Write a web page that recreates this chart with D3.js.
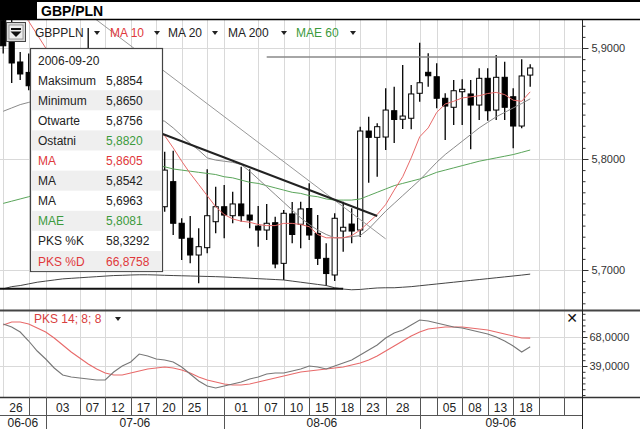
<!DOCTYPE html>
<html><head><meta charset="utf-8">
<script src="https://cdn.jsdelivr.net/npm/d3@7/dist/d3.min.js"></script>
<style>
html,body{margin:0;padding:0;background:#fff;}
svg{display:block;font-family:"Liberation Sans",Arial,sans-serif;}
</style></head><body>
<svg id="chart" width="640" height="429"></svg>
<script>
// ---------------- DATA ----------------
const dates = ["2006-06-26","2006-06-27","2006-06-28","2006-06-29","2006-06-30",
"2006-07-03","2006-07-04","2006-07-05","2006-07-06","2006-07-07",
"2006-07-10","2006-07-11","2006-07-12","2006-07-13","2006-07-14",
"2006-07-17","2006-07-18","2006-07-19","2006-07-20","2006-07-21",
"2006-07-24","2006-07-25","2006-07-26","2006-07-27","2006-07-28",
"2006-07-31","2006-08-01","2006-08-02","2006-08-03","2006-08-04",
"2006-08-07","2006-08-08","2006-08-09","2006-08-10","2006-08-11",
"2006-08-14","2006-08-15","2006-08-16","2006-08-17","2006-08-18",
"2006-08-21","2006-08-22","2006-08-23","2006-08-24","2006-08-25",
"2006-08-28","2006-08-29","2006-08-30","2006-08-31","2006-09-01",
"2006-09-04","2006-09-05","2006-09-06","2006-09-07","2006-09-08",
"2006-09-11","2006-09-12","2006-09-13","2006-09-14","2006-09-15",
"2006-09-18","2006-09-19","2006-09-20"];

const open = [5.9250,5.9117,5.8874,5.8780,5.8660,5.8820,5.8700,5.8890,5.8740,5.8600,
5.8780,5.8920,5.8660,5.8500,5.8400,5.8520,5.8280,5.8350,5.8020,5.7570,
5.7796,5.7421,5.7286,5.7135,5.7201,5.7435,5.7570,5.7489,5.7595,5.7495,
5.7396,5.7360,5.7426,5.7060,5.7505,5.7412,5.7554,5.7330,5.7105,5.6955,
5.7351,5.7414,5.7360,5.8252,5.8195,5.8198,5.8435,5.8358,5.8367,5.8592,
5.8781,5.8741,5.8547,5.8466,5.8606,5.8586,5.8486,5.8727,5.8441,5.8736,
5.8561,5.8297,5.8756];
const high = [5.9350,5.9300,5.8964,5.8950,5.8890,5.8930,5.8980,5.8960,5.8800,5.8840,
5.9180,5.8960,5.8720,5.8620,5.8580,5.8560,5.8420,5.8400,5.8150,5.8066,
5.8075,5.7466,5.7486,5.7376,5.7907,5.7750,5.7766,5.7705,5.7931,5.7907,
5.7577,5.7595,5.7480,5.7540,5.7613,5.7615,5.7781,5.7495,5.7240,5.7511,
5.7615,5.7556,5.8291,5.8381,5.8322,5.8637,5.8651,5.8847,5.8667,5.9048,
5.8952,5.8862,5.8592,5.8712,5.8718,5.8712,5.8817,5.8817,5.8937,5.8877,
5.8637,5.8898,5.8854];
const low = [5.8950,5.8685,5.8712,5.8620,5.8580,5.8640,5.8660,5.8680,5.8520,5.8550,
5.8700,5.8610,5.8450,5.8320,5.8340,5.8220,5.8120,5.7950,5.7600,5.7525,
5.7315,5.7090,5.7060,5.6880,5.7150,5.7330,5.7286,5.7421,5.7435,5.7376,
5.7210,5.7270,5.7015,5.6910,5.7240,5.7196,5.7270,5.7045,5.6856,5.6901,
5.7165,5.7240,5.7297,5.7786,5.7841,5.8081,5.8144,5.8270,5.8268,5.8516,
5.8651,5.8457,5.8171,5.8306,5.8306,5.8087,5.8351,5.8345,5.8351,5.8351,
5.8096,5.8277,5.8650];
const close = [5.9020,5.8865,5.8766,5.8660,5.8820,5.8700,5.8890,5.8740,5.8600,5.8780,
5.8920,5.8660,5.8500,5.8400,5.8520,5.8280,5.8350,5.8020,5.7680,5.7900,
5.7421,5.7286,5.7135,5.7210,5.7489,5.7570,5.7495,5.7595,5.7489,5.7450,
5.7360,5.7421,5.7054,5.7511,5.7320,5.7550,5.7315,5.7105,5.6968,5.7466,
5.7385,5.7351,5.8252,5.8195,5.8291,5.8441,5.8356,5.8387,5.8586,5.8687,
5.8750,5.8547,5.8477,5.8615,5.8628,5.8486,5.8727,5.8435,5.8736,5.8466,
5.8297,5.8748,5.8820];

const ma10 = [5.950,5.945,5.935,5.924,5.912,5.900,5.890,5.880,5.872,5.865,
5.858,5.852,5.848,5.845,5.842,5.838,5.834,5.830,5.825,5.821,
5.810,5.798,5.787,5.777,5.767,5.757,5.750,5.746,5.744,5.743,
5.741,5.740,5.740,5.742,5.742,5.741,5.739,5.732,5.729,5.729,
5.729,5.731,5.736,5.743,5.750,5.759,5.772,5.784,5.801,5.820,
5.828,5.842,5.8495,5.852,5.855,5.856,5.857,5.859,5.860,5.858,
5.853,5.852,5.8605];
const ma20 = [5.843,5.846,5.849,5.851,5.853,5.854,5.855,5.856,5.857,5.857,
5.856,5.855,5.853,5.851,5.848,5.845,5.842,5.839,5.836,5.834,
5.828,5.821,5.814,5.808,5.801,5.799,5.798,5.797,5.795,5.789,
5.782,5.775,5.768,5.761,5.754,5.747,5.741,5.736,5.732,5.729,
5.729,5.730,5.731,5.737,5.745,5.753,5.760,5.767,5.774,5.781,
5.789,5.797,5.804,5.810,5.816,5.822,5.828,5.833,5.838,5.842,
5.846,5.850,5.8542];
const ma200 = [5.683,5.685,5.686,5.6875,5.689,5.690,5.691,5.692,5.6925,5.693,
5.6935,5.694,5.6945,5.695,5.6952,5.6955,5.6957,5.6957,5.6955,5.6952,
5.695,5.6948,5.6946,5.6944,5.6942,5.694,5.6937,5.6933,5.693,5.6926,
5.6922,5.6918,5.6914,5.691,5.690,5.689,5.688,5.687,5.686,5.684,
5.6828,5.6822,5.6825,5.6832,5.6838,5.684,5.684,5.6845,5.685,5.6858,
5.6866,5.6874,5.6882,5.689,5.6898,5.6906,5.6914,5.6922,5.693,5.6938,
5.6946,5.6954,5.6963];
const mae60 = [5.760,5.762,5.764,5.766,5.769,5.772,5.775,5.778,5.781,5.783,
5.786,5.788,5.790,5.791,5.792,5.793,5.794,5.794,5.794,5.793,
5.791,5.790,5.789,5.788,5.787,5.786,5.784,5.783,5.781,5.779,
5.778,5.776,5.774,5.772,5.770,5.769,5.767,5.766,5.764,5.763,
5.763,5.763,5.764,5.767,5.770,5.773,5.776,5.778,5.780,5.782,
5.785,5.788,5.790,5.792,5.794,5.796,5.798,5.7995,5.801,5.8025,
5.804,5.806,5.8081];

const pksK = [81,78,73,64,54,46,37,30,28,27,26,25,25,33,39,43,51,49,46,45,
43,38,31,24,19,17,19,21,23,26,28,31,32,32,34,36,39,38,36,39,
42,45,50,55,60,67,72,75,80,85,84,82,80,78,77,75,73,71,68,64,
59,53,58.3292];
const pksD = [80,83,83,81,77,73,67,60,53,47,41,36,32,30,30,32,34,36,37,38,
37,35,32,28,25,23,21,20,20,21,23,25,27,29,31,33,34,35,36,37,
38,40,42,45,49,54,59,64,69,73,76,77,78,78,78,77,76,75,73,71,
69,67,66.8758];

// trend lines drawn by the user: [candle index, price]
const trendThick = [[15,5.8336],[44,5.7486]];
const trendLong = [[10,5.931],[45,5.728]];
const resistance = [[31,5.892],[68,5.892]];
const support = [[-0.4,5.683],[40,5.683]];

const priceTicks = [5.7,5.8,5.9];
const pksTicks = [39,68];
const dayTicks = [
 {date:"2006-06-26",label:"26"},{date:"2006-06-29",label:""},{date:"2006-07-03",label:"03"},
 {date:"2006-07-07",label:"07"},{date:"2006-07-12",label:"12"},{date:"2006-07-17",label:"17"},
 {date:"2006-07-20",label:"20"},{date:"2006-07-25",label:"25"},{date:"2006-07-28",label:""},
 {date:"2006-08-01",label:"01"},{date:"2006-08-07",label:"07"},{date:"2006-08-10",label:"10"},
 {date:"2006-08-15",label:"15"},{date:"2006-08-18",label:"18"},{date:"2006-08-23",label:"23"},
 {date:"2006-08-28",label:"28"},{date:"2006-09-01",label:""},{date:"2006-09-05",label:"05"},
 {date:"2006-09-08",label:"08"},{date:"2006-09-13",label:"13"},{date:"2006-09-18",label:"18"},
 {date:"2006-09-21",label:""},{date:"2006-09-26",label:""}];
const monthTicks = [{date:"2006-06-26",label:"06-06"},{date:"2006-07-03",label:"07-06"},
 {date:"2006-08-01",label:"08-06"},{date:"2006-09-01",label:"09-06"}];

const title = "GBP/PLN";
const legendItems = [{t:"GBPPLN",c:"#222"},{t:"MA 10",c:"#e0383b"},{t:"MA 20",c:"#222"},{t:"MA 200",c:"#222"},{t:"MAE 60",c:"#3c9a3c"}];
const infoLabels = ["Maksimum","Minimum","Otwarte","Ostatni","MA","MA","MA","MAE","PKS %K","PKS %D"];
const pksTitle = "PKS 14; 8; 8";

// ---------------- DRAW ----------------
const svg = d3.select("#chart");
const AX = 582, MT = 20, MB = 310, LT = 311, LB = 397;
const x = d3.scaleLinear().domain([0,68]).range([3.2,581.2]);
const y = d3.scaleLinear().domain([5.7,5.9]).range([270,48]);
const yk = d3.scaleLinear().domain([39,68]).range([366,337]);
const comma = v => d3.format(".4f")(v).replace(".", ",");
const last = dates.length-1;
const RED="#e0383b", GREEN="#3c9a3c";

function bizIndex(ds){
  const t0=new Date(dates[0]+"T00:00:00Z"), t=new Date(ds+"T00:00:00Z");
  let n=0;
  for(let c=new Date(t0); c<t; c.setUTCDate(c.getUTCDate()+1)){const w=c.getUTCDay(); if(w!==0&&w!==6) n++;}
  return n;
}
const px = v => Math.round(v)+0.5;

const defs = svg.append("defs");
defs.append("clipPath").attr("id","cm").append("rect").attr("x",0).attr("y",MT).attr("width",AX).attr("height",MB-MT);
defs.append("clipPath").attr("id","cl").append("rect").attr("x",0).attr("y",LT).attr("width",AX).attr("height",LB-LT);

svg.append("rect").attr("width",640).attr("height",429).attr("fill","#fff");

// grid
const grid = svg.append("g").attr("stroke","#d9d9d9").attr("stroke-width",1);
dayTicks.forEach(t=>{
  const xx = px(x(bizIndex(t.date)));
  grid.append("line").attr("x1",xx).attr("x2",xx).attr("y1",MT).attr("y2",LB);
});
priceTicks.forEach(v=>grid.append("line").attr("x1",0).attr("x2",AX).attr("y1",px(y(v))).attr("y2",px(y(v))));
pksTicks.forEach(v=>grid.append("line").attr("x1",0).attr("x2",AX).attr("y1",px(yk(v))).attr("y2",px(yk(v))));

// main panel
const main = svg.append("g").attr("clip-path","url(#cm)");
const idxLine = d3.line().x((d,i)=>x(i)).y(d=>y(d));
const ptLine = d3.line().x(d=>x(d[0])).y(d=>y(d[1]));

// candles
const cg = main.append("g");
dates.forEach((d,i)=>{
  const o=open[i], c=close[i], xx=x(i);
  cg.append("line").attr("x1",xx).attr("x2",xx).attr("y1",y(high[i])).attr("y2",y(low[i]))
    .attr("stroke","#000").attr("stroke-width",1.3);
  const top=y(Math.max(o,c)), h=Math.max(1,Math.abs(y(o)-y(c)));
  cg.append("rect").attr("x",xx-2.6).attr("y",top).attr("width",5.2).attr("height",h)
    .attr("fill", c>=o ? "#fff":"#000").attr("stroke","#000").attr("stroke-width",1);
});

// indicators
main.append("path").attr("d",idxLine(ma200)).attr("fill","none").attr("stroke","#444").attr("stroke-width",1);
main.append("path").attr("d",idxLine(mae60)).attr("fill","none").attr("stroke","#5aa55a").attr("stroke-width",1);
main.append("path").attr("d",idxLine(ma20)).attr("fill","none").attr("stroke","#8a8a8a").attr("stroke-width",1);
main.append("path").attr("d",idxLine(ma10)).attr("fill","none").attr("stroke","#e86a6a").attr("stroke-width",1);

// trend lines
main.append("path").attr("d",ptLine(support)).attr("stroke","#111").attr("stroke-width",2).attr("fill","none");
main.append("path").attr("d",ptLine(resistance)).attr("stroke","#888").attr("stroke-width",1.5).attr("fill","none");
main.append("path").attr("d",ptLine(trendLong)).attr("stroke","#999").attr("stroke-width",1).attr("fill","none");
main.append("path").attr("d",ptLine(trendThick)).attr("stroke","#222").attr("stroke-width",2).attr("fill","none");

// lower panel
const low_g = svg.append("g").attr("clip-path","url(#cl)");
const kLine = d3.line().x((d,i)=>x(i)).y(d=>yk(d));
low_g.append("path").attr("d",kLine(pksD)).attr("fill","none").attr("stroke","#e86a6a").attr("stroke-width",1.1);
low_g.append("path").attr("d",kLine(pksK)).attr("fill","none").attr("stroke","#777").attr("stroke-width",1.1);

// frame lines
svg.append("rect").attr("x",0).attr("y",0).attr("width",640).attr("height",2).attr("fill","#000");
svg.append("rect").attr("x",0).attr("y",0).attr("width",37).attr("height",20).attr("fill","#000");
svg.append("line").attr("x1",0).attr("x2",640).attr("y1",19.5).attr("y2",19.5).attr("stroke","#000").attr("stroke-width",1.5);
svg.append("text").attr("x",41).attr("y",16).attr("font-size",14).attr("font-weight","bold").attr("fill","#000").text(title);
svg.append("line").attr("x1",0).attr("x2",640).attr("y1",310.5).attr("y2",310.5).attr("stroke","#444").attr("stroke-width",2);

// right axes
svg.append("line").attr("x1",AX+0.5).attr("x2",AX+0.5).attr("y1",MT).attr("y2",429).attr("stroke","#222").attr("stroke-width",1);
const minorP = d3.range(567,593).map(k=>k/100);
svg.append("g").attr("transform",`translate(${AX+0.5},0)`)
  .call(d3.axisRight(y).tickValues(minorP).tickSize(3).tickFormat(""))
  .call(g=>g.select(".domain").remove()).call(g=>g.selectAll("line").attr("stroke","#333"));
svg.append("g").attr("transform",`translate(${AX+0.5},0)`)
  .call(d3.axisRight(y).tickValues(priceTicks).tickSize(6).tickPadding(3).tickFormat(comma))
  .call(g=>g.select(".domain").remove())
  .call(g=>g.selectAll("line").attr("stroke","#333"))
  .call(g=>g.selectAll("text").attr("font-size",11).attr("fill","#333").attr("font-family","Liberation Sans, Arial, sans-serif"));
const minorK = d3.range(-5,11).map(k=>39+5.8*k).filter(v=>yk(v)>LT+2 && yk(v)<LB-1);
svg.append("g").attr("transform",`translate(${AX+0.5},0)`)
  .call(d3.axisRight(yk).tickValues(minorK).tickSize(3).tickFormat(""))
  .call(g=>g.select(".domain").remove()).call(g=>g.selectAll("line").attr("stroke","#333"));
svg.append("g").attr("transform",`translate(${AX+0.5},0)`)
  .call(d3.axisRight(yk).tickValues(pksTicks).tickSize(5).tickPadding(2).tickFormat(comma))
  .call(g=>g.select(".domain").remove())
  .call(g=>g.selectAll("line").attr("stroke","#333"))
  .call(g=>g.selectAll("text").attr("font-size",11).attr("fill","#333").attr("font-family","Liberation Sans, Arial, sans-serif"));

// date rows
svg.append("rect").attr("x",0).attr("y",LB).attr("width",640).attr("height",429-LB).attr("fill","#fff");
svg.append("line").attr("x1",0).attr("x2",640).attr("y1",LB+0.5).attr("y2",LB+0.5).attr("stroke","#333").attr("stroke-width",1.5);
svg.append("line").attr("x1",0).attr("x2",AX).attr("y1",415.5).attr("y2",415.5).attr("stroke","#555").attr("stroke-width",1);
svg.append("line").attr("x1",AX+0.5).attr("x2",AX+0.5).attr("y1",LB).attr("y2",429).attr("stroke","#222");
const dx = dayTicks.map(t=>x(bizIndex(t.date)));
dayTicks.forEach((t,k)=>{
  const l = Math.max(0,dx[k]), r = k<dayTicks.length-1 ? dx[k+1] : AX;
  if(k>0) svg.append("line").attr("x1",px(dx[k])).attr("x2",px(dx[k])).attr("y1",LB).attr("y2",415).attr("stroke","#555");
  if(t.label) svg.append("text").attr("x",(l+r)/2).attr("y",412).attr("text-anchor","middle")
     .attr("font-size",12).attr("fill","#222").text(t.label);
});
const mx = monthTicks.map(t=>x(bizIndex(t.date)));
monthTicks.forEach((t,k)=>{
  const l = k===0?0:mx[k], r = k<monthTicks.length-1 ? mx[k+1] : AX;
  if(k>0) svg.append("line").attr("x1",px(mx[k])).attr("x2",px(mx[k])).attr("y1",415).attr("y2",429).attr("stroke","#555");
  svg.append("text").attr("x",(l+r)/2).attr("y",427).attr("text-anchor","middle")
     .attr("font-size",12).attr("fill","#222").text(t.label);
});

// legend row
const tri = (g,cx,cy,col)=>g.append("path").attr("d",`M${cx-3},${cy-2}L${cx+3},${cy-2}L${cx},${cy+2}Z`).attr("fill",col||"#222");
const lg = svg.append("g");
const legX = [35,110,168,228,296], triX = [97,157,215,284,353];
legendItems.forEach((it,k)=>{
  lg.append("text").attr("x",legX[k]).attr("y",37).attr("font-size",12).attr("fill",it.c).text(it.t);
  tri(lg,triX[k],33);
});
// dropdown button
svg.append("rect").attr("x",6.5).attr("y",22.5).attr("width",19).attr("height",19).attr("fill","#d8d8d8").attr("stroke","#444");
svg.append("rect").attr("x",9).attr("y",25).attr("width",14).attr("height",14).attr("fill","#eee").attr("stroke","#888").attr("stroke-width",0.8);
svg.append("rect").attr("x",11).attr("y",28).attr("width",10).attr("height",2).attr("fill","#111");
svg.append("path").attr("d","M10.5,31.5L21.5,31.5L16,37Z").attr("fill","#111");

// info box
const info = svg.append("g");
info.append("rect").attr("x",30.5).attr("y",48.5).attr("width",132).attr("height",223).attr("fill","#fff").attr("stroke","#444").attr("stroke-width",1.2);
const rowH = 20.1, row0 = 50;
const infoValues = [high[last],low[last],open[last],close[last],ma10[last],ma20[last],ma200[last],mae60[last],pksK[last],pksD[last]].map(comma);
const rowColors = ["#222","#222","#222","#222",RED,"#222","#222",GREEN,"#222",RED];
const valColors = ["#222","#222","#222",GREEN,RED,"#222","#222",GREEN,"#222",RED];
for(let r=0;r<11;r++){
  if(r%2===0 && r>0) info.append("rect").attr("x",31.5).attr("y",row0+r*rowH).attr("width",130.2).attr("height",rowH).attr("fill","#efefef");
}
info.append("text").attr("x",38).attr("y",row0+rowH*0.5+4.5).attr("font-size",12).attr("fill","#222").text(dates[last]);
infoLabels.forEach((lab,k)=>{
  const yy = row0+(k+1)*rowH+rowH*0.5+4.5;
  info.append("text").attr("x",38).attr("y",yy).attr("font-size",12).attr("fill",rowColors[k]).text(lab);
  info.append("text").attr("x",106).attr("y",yy).attr("font-size",12).attr("fill",valColors[k]).text(infoValues[k]);
});

// lower panel header
svg.append("text").attr("x",34).attr("y",323).attr("font-size",12).attr("fill","#d84040").text(pksTitle);
tri(svg,118,319);
svg.append("text").attr("x",572).attr("y",323).attr("text-anchor","middle").attr("font-size",14).attr("font-weight","bold")
  .attr("font-family","DejaVu Sans, sans-serif").attr("fill","#111").text("✕");
</script>
</body></html>
